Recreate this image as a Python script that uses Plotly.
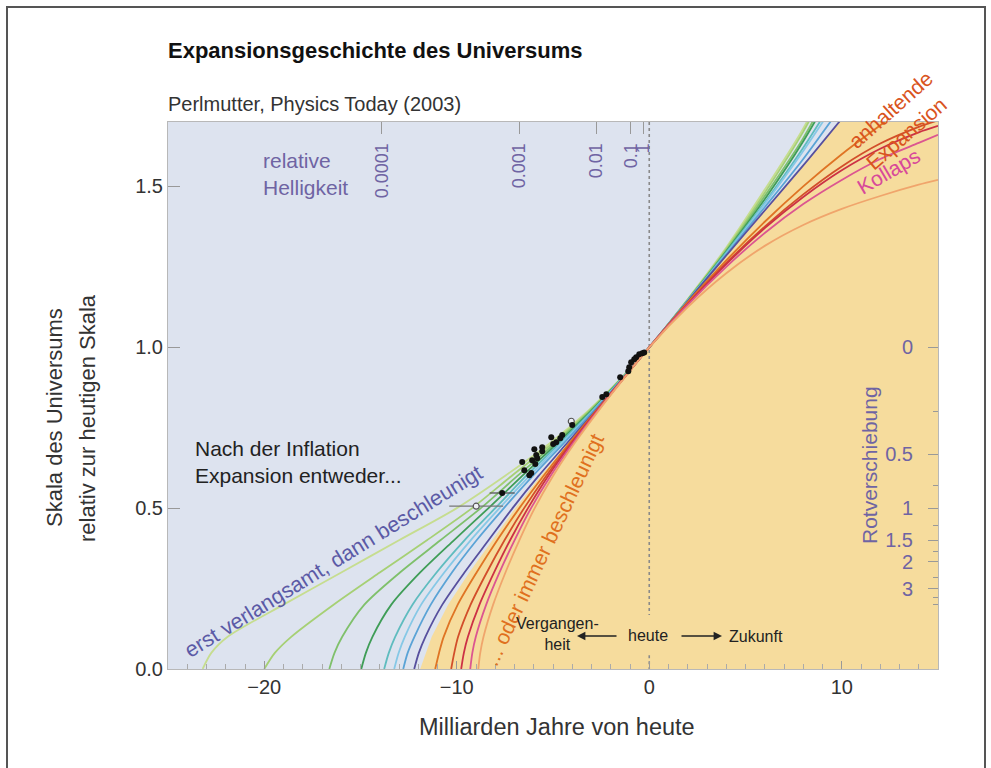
import plotly.graph_objects as go

# ---------------- data ----------------
# Past branch: time (Gyr from today) at which each model reaches these scale factors
past_scale = [0.0, 0.05, 0.1, 0.2, 0.3, 0.4, 0.5, 0.6, 0.7, 0.8, 0.9, 1.0]
# Future branch: times (Gyr from today) at which the scale factor is listed
future_time = [2, 4, 6, 8, 10, 12, 14, 15]

# models that first decelerate, then accelerate (light green ... navy)
acc_past_time = [
    [-23.2, -22.75, -21.9, -19.0, -16.0, -13.0, -10.0, -7.5, -5.2, -3.22, -1.52, 0],
    [-20.0, -19.45, -18.6, -16.4, -14.0, -11.55, -9.2, -7.15, -5.05, -3.16, -1.5, 0],
    [-16.62, -16.35, -15.95, -14.8, -12.95, -10.85, -8.75, -6.85, -4.92, -3.1, -1.48, 0],
    [-14.96, -14.72, -14.38, -13.4, -11.9, -10.15, -8.35, -6.6, -4.8, -3.05, -1.47, 0],
    [-13.77, -13.53, -13.2, -12.3, -11.05, -9.6, -8.0, -6.4, -4.68, -3.0, -1.45, 0],
    [-13.25, -13.02, -12.7, -11.85, -10.65, -9.28, -7.78, -6.22, -4.58, -2.96, -1.44, 0],
    [-12.78, -12.55, -12.2, -11.35, -10.25, -8.97, -7.55, -6.05, -4.47, -2.92, -1.43, 0],
    [-12.21, -11.97, -11.63, -10.75, -9.6, -8.35, -7.1, -5.75, -4.3, -2.83, -1.4, 0],
]
acc_future_scale = [
    [1.15, 1.31, 1.49, 1.68, 1.92, None, None, None],
    [1.148, 1.305, 1.48, 1.67, 1.90, None, None, None],
    [1.147, 1.30, 1.47, 1.65, 1.87, None, None, None],
    [1.146, 1.298, 1.46, 1.64, 1.85, None, None, None],
    [1.145, 1.295, 1.45, 1.62, 1.81, None, None, None],
    [1.145, 1.29, 1.445, 1.61, 1.79, None, None, None],
    [1.144, 1.288, 1.435, 1.585, 1.75, None, None, None],
    [1.143, 1.285, 1.425, 1.565, 1.71, None, None, None],
]

# models that decelerate all the time (continued expansion ... collapse)
dec_past_time = [
    [-11.12, -10.92, -10.68, -9.95, -8.97, -7.9, -6.75, -5.5, -4.18, -2.8, -1.39, 0],
    [-10.29, -10.13, -9.93, -9.28, -8.44, -7.52, -6.5, -5.36, -4.1, -2.77, -1.39, 0],
    [-9.77, -9.63, -9.42, -8.82, -8.06, -7.23, -6.3, -5.25, -4.05, -2.74, -1.38, 0],
    [-9.3, -9.19, -9.01, -8.47, -7.78, -7.0, -6.14, -5.13, -3.98, -2.71, -1.37, 0],
    [-8.88, -8.78, -8.61, -8.11, -7.47, -6.75, -5.95, -5.0, -3.9, -2.67, -1.36, 0],
]
dec_future_scale = [
    [1.14, 1.27, 1.39, 1.50, 1.60, 1.69, 1.78, None],
    [1.135, 1.262, 1.375, 1.475, 1.562, 1.633, 1.685, 1.705],
    [1.134, 1.258, 1.37, 1.467, 1.55, 1.617, 1.668, 1.688],
    [1.132, 1.25, 1.355, 1.445, 1.52, 1.585, 1.635, 1.66],
    [1.125, 1.23, 1.315, 1.38, 1.43, 1.47, 1.505, 1.52],
]

# edge of the "always decelerating" domain
domain_time = [-11.9, -11.6, -11.3, -10.45, -9.35, -8.15, -6.95, -5.65, -4.25, -2.81, -1.39, 0,
               2, 4, 6, 8, 10.0, 15, 15, -11.9]
domain_scale = [0, 0.05, 0.1, 0.2, 0.3, 0.4, 0.5, 0.6, 0.7, 0.8, 0.9, 1.0,
                1.143, 1.285, 1.425, 1.565, 1.71, 1.71, 0, 0]

# supernova measurements (time from today in Gyr, relative scale)
sn_time = [-0.26, -0.36, -0.52, -0.68, -0.78, -0.94, -1.04, -1.09, -1.51, -2.23, -2.44,
           -4.0, -4.52, -4.62, -5.09, -4.83, -4.99, -5.56, -5.56, -5.97, -5.87, -5.82,
           -6.08, -5.92, -6.6, -6.49, -6.13, -6.23, -7.64]
sn_scale = [0.984, 0.981, 0.978, 0.969, 0.963, 0.953, 0.938, 0.925, 0.907, 0.854, 0.845,
            0.758, 0.727, 0.717, 0.720, 0.705, 0.699, 0.689, 0.677, 0.683, 0.665, 0.655,
            0.649, 0.637, 0.643, 0.618, 0.609, 0.602, 0.547]
sn_time_err = [0] * 28 + [0.65]
sn_open_time = [-4.05, -8.99]
sn_open_scale = [0.770, 0.506]
sn_open_time_err = [0, 1.4]

# relative brightness (top axis) and redshift (right axis)
brightness_time = [-13.9, -6.75, -2.75, -0.95, -0.3]
brightness_labels = ["0.0001", "0.001", "0.01", "0.1", "1"]
redshift_labels = ["0", "0.5", "1", "1.5", "2", "3"]
redshift_values = [0, 0.5, 1, 1.5, 2, 3]
redshift_minor = [0.25, 0.75, 1.25, 1.75, 2.5, 3.5, 4]

# ---------------- style ----------------
acc_colors = ["#c6dd8f", "#a6d074", "#7fc06b", "#3f9d57", "#5fbcbf", "#86c8e6", "#5aa3d6", "#57509e"]
dec_colors = ["#df7424", "#d24e2a", "#cc3145", "#dc5590", "#f0a56c"]
BLUE_BG = "#dde3ef"
YELLOW = "#f6dc9d"
PURPLE = "#6f64a3"
FONT = "Liberation Sans, Arial, sans-serif"

W, H = 991, 768
L, R, T, B = 168, 938, 122, 669


def px(x):
    return (x - L) / (R - L)


def py(y):
    return (B - y) / (B - T)


fig = go.Figure()

# domain of decelerating models
fig.add_trace(go.Scatter(x=domain_time, y=domain_scale, mode="lines", fill="toself",
                         fillcolor=YELLOW, line=dict(width=0), hoverinfo="skip",
                         showlegend=False))

# today
fig.add_trace(go.Scatter(x=[0, 0, None, 0, 0], y=[1.7, 0.168, None, 0.043, 0],
                         mode="lines", line=dict(color="#8a8a8a", width=1.6, dash="dot"),
                         hoverinfo="skip", showlegend=False))

for times, fut, col in zip(acc_past_time, acc_future_scale, acc_colors):
    fig.add_trace(go.Scatter(x=times + future_time, y=past_scale + fut, mode="lines",
                             line=dict(color=col, width=1.8, shape="spline", smoothing=0.8),
                             showlegend=False))
for times, fut, col in zip(dec_past_time, dec_future_scale, dec_colors):
    fig.add_trace(go.Scatter(x=times + future_time, y=past_scale + fut, mode="lines",
                             line=dict(color=col, width=1.8, shape="spline", smoothing=0.8),
                             showlegend=False))

fig.add_trace(go.Scatter(x=sn_open_time, y=sn_open_scale, mode="markers",
                         marker=dict(size=6, color="#eef0f6", line=dict(color="#555", width=1.2)),
                         error_x=dict(type="data", array=sn_open_time_err, color="#777",
                                      thickness=1.3, width=0),
                         showlegend=False))
fig.add_trace(go.Scatter(x=sn_time, y=sn_scale, mode="markers",
                         marker=dict(size=6, color="#111"),
                         error_x=dict(type="data", array=sn_time_err, color="#555",
                                      thickness=1.3, width=0),
                         showlegend=False))

# redshift ticks on the right: a = 1/(1+z)
red_pos = [1 / (1 + z) for z in redshift_values]
red_minor_pos = [1 / (1 + z) for z in redshift_minor]
fig.add_trace(go.Scatter(x=[None], y=[None], yaxis="y2", xaxis="x2", showlegend=False))

fig.update_layout(
    width=W, height=H,
    margin=dict(l=L, r=W - R, t=T, b=H - B),
    paper_bgcolor="white", plot_bgcolor=BLUE_BG,
    font=dict(family=FONT, color="#333"),
    xaxis=dict(range=[-25, 15], tickvals=[-20, -10, 0, 10], ticks="inside", ticklen=8,
               tickcolor="#999", showgrid=False, zeroline=False, showline=True,
               linecolor="#b8b8b8", linewidth=1, mirror=True,
               tickfont=dict(size=20, color="#333"),
               minor=dict(dtick=1, ticks="inside", ticklen=5, tickcolor="#aaa")),
    yaxis=dict(range=[0, 1.7], tickvals=[0, 0.5, 1.0, 1.5], tickformat=".1f",
               ticks="inside", ticklen=12, tickcolor="#999", showgrid=False,
               zeroline=False, showline=True, linecolor="#b8b8b8", linewidth=1,
               mirror=True, tickfont=dict(size=20, color="#333")),
    xaxis2=dict(range=[-25, 15], overlaying="x", side="top", tickvals=brightness_time,
                ticktext=brightness_labels, ticks="inside", ticklen=12, tickcolor="#999",
                tickangle=-90, ticklabelposition="inside", showgrid=False,
                zeroline=False, tickfont=dict(size=18, color=PURPLE)),
    yaxis2=dict(range=[0, 1.7], overlaying="y", side="right", tickvals=red_pos,
                ticktext=redshift_labels, ticks="inside", ticklen=10, tickcolor="#999",
                ticklabelposition="inside", ticklabelstandoff=16, showgrid=False,
                zeroline=False, tickfont=dict(size=20, color=PURPLE),
                minor=dict(tickvals=red_minor_pos, ticks="inside", ticklen=5,
                           tickcolor="#999")),
)


def note(text, x, y, size=18, color="#222", angle=0, xanchor="center", **kw):
    fig.add_annotation(text=text, x=px(x), y=py(y), xref="paper", yref="paper",
                       showarrow=False, textangle=angle, xanchor=xanchor, yanchor="middle",
                       font=dict(size=size, color=color, family=FONT), **kw)


note("<b>Expansionsgeschichte des Universums</b>", 166, 50, size=22, color="#111",
     xanchor="left")
note("Perlmutter, Physics Today (2003)", 166, 104, size=20, color="#333", xanchor="left")
note("Skala des Universums", 55, 418, size=22, color="#333", angle=-90)
note("relativ zur heutigen Skala", 88, 418, size=22, color="#333", angle=-90)
note("Milliarden Jahre von heute", 557, 727, size=23.5, color="#333")

note("relative<br>Helligkeit", 261, 174, size=21, color=PURPLE, xanchor="left", align="left")
note("Rotverschiebung", 870, 465, size=21, color=PURPLE, angle=-90)
note("Nach der Inflation<br>Expansion entweder...", 193, 462, size=21, color="#222",
     xanchor="left", align="left")
note("erst verlangsamt, dann beschleunigt", 333, 562, size=21.5, color="#5b5aa6", angle=-31.7)
note("... oder immer beschleunigt", 543, 550, size=21, color="#e0701e", angle=-64.8)
note("anhaltende", 891, 110, size=21, color="#d9541e", angle=-41.7)
note("Expansion", 906, 133, size=21, color="#d9541e", angle=-40.7)
note("Kollaps", 888, 171, size=21, color="#d8489a", angle=-30.4)
note("Vergangen-<br>heit", 557, 634, size=16, color="#222")
note("heute", 648, 635, size=16, color="#222")
note("Zukunft", 756, 636, size=16, color="#222")

# arrows Vergangenheit <- heute -> Zukunft
for head, tail in [(577, 618), (722, 680)]:
    fig.add_annotation(x=px(head), y=py(636), xref="paper", yref="paper", text="",
                       showarrow=True, ax=tail - head, ay=0, arrowhead=2, arrowsize=1.2,
                       arrowwidth=1.4, arrowcolor="#222")

# outer frame
fig.add_shape(type="rect", xref="paper", yref="paper", x0=px(7), x1=px(985), y0=py(790),
              y1=py(7), line=dict(color="#555", width=2))

fig.write_html("out.html")
